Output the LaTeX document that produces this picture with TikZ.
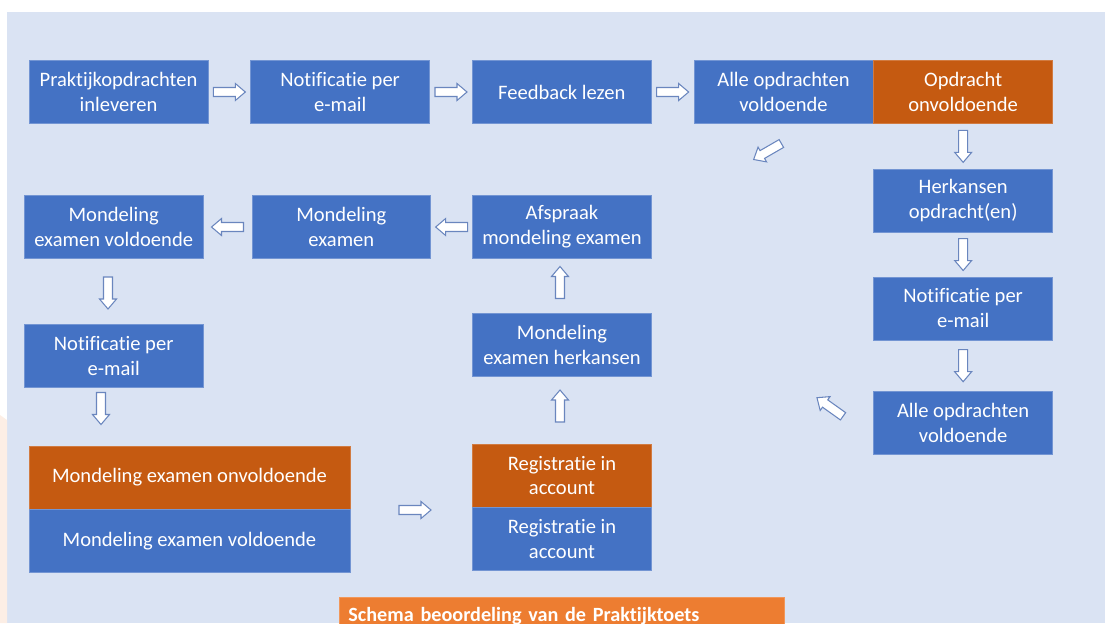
\documentclass[tikz,border=0pt]{standalone}
\usepackage{fontspec}
\setmainfont[Ligatures=NoCommon]{Carlito}
\usetikzlibrary{positioning, calc}
\definecolor{bdBlue}{HTML}{4472C4}
\definecolor{bdRust}{HTML}{C55A11}
\definecolor{bdOrange}{HTML}{ED7D31}
\definecolor{bdBack}{HTML}{DAE3F3}
\definecolor{bdPeach}{HTML}{FCEEE5}
\definecolor{bdEdge}{HTML}{6A86BE}
\tikzset{
  task/.style={
    draw=bdBlue!75!white, line width=0.4pt, fill=bdBlue, text=white,
    align=center, inner sep=2pt, font=\fontsize{11.7}{14.2}\selectfont,
    minimum width=3.58cm, minimum height=1.26cm
  },
  failtask/.style={task, draw=bdRust!80!white, fill=bdRust},
  widetask/.style={task, minimum width=6.42cm},
  widefail/.style={failtask, minimum width=6.42cm},
  titlebar/.style={
    fill=bdOrange, draw=bdOrange!80!white, line width=0.4pt, text=white,
    font=\fontsize{11.5}{14}\selectfont\bfseries, align=left,
    inner xsep=0.18cm, inner ysep=0pt, text width=8.54cm,
    text height=0.48cm, text depth=0.5cm
  },
  barrow/.pic={
    \draw[bdEdge, line width=0.6pt, fill=white, line join=miter]
      (-16,-4.5) -- (6,-4.5) -- (6,-8.5) -- (16,0) -- (6,8.5) -- (6,4.5) -- (-16,4.5) -- cycle;
  },
}
\begin{document}
\begin{tikzpicture}[x=0.02cm, y=-0.02cm]
  \useasboundingbox (0,0) rectangle (1105,623);
  \clip (0,0) rectangle (1105,623);
  \fill[bdBack] (7,12) rectangle (1105,623);
  \fill[bdPeach] (0,415) -- (7,420) -- (7,623) -- (0,623) -- cycle;

  \node[task] (inlev) at (118.5,92) {Praktijkopdrachten\\inleveren};
  \node[task, right=0.84cm of inlev] (mail1) {Notificatie per\\e-mail};
  \node[task, right=0.84cm of mail1] (feedb) {Feedback lezen};
  \node[task, right=0.84cm of feedb] (allok1) {Alle opdrachten\\voldoende};
  \node[failtask, right=0pt of allok1] (onvold) {Opdracht\\onvoldoende};
  \node[task, below=0.9cm of onvold] (herk) {Herkansen\\opdracht(en)};
  \node[task, below=0.88cm of herk] (mail2) {Notificatie per\\e-mail};
  \node[task, below=1.02cm of mail2] (allok2) {Alle opdrachten\\voldoende};

  \node[task] (afspr) at (562,227) {Afspraak\\mondeling examen};
  \node[task, left=0.82cm of afspr] (mond) {Mondeling\\examen};
  \node[task, left=0.96cm of mond] (mondok) {Mondeling\\examen voldoende};
  \node[task, below=1.3cm of mondok] (mail3) {Notificatie per\\e-mail};
  \node[task, below=1.08cm of afspr] (mondherk) {Mondeling\\examen herkansen};

  \node[widefail] (mondfail) at (189.5,477.5) {Mondeling examen onvoldoende};
  \node[widetask, below=0pt of mondfail] (mondpass) {Mondeling examen voldoende};
  \node[failtask] (regfail) at (562,475.5) {Registratie in\\account};
  \node[task, below=0pt of regfail] (regpass) {Registratie in\\account};

  \node[titlebar, anchor=north west] (titel) at (339,597) {Schema beoordeling van de Praktijktoets};

  \pic at ($(inlev.east)!0.5!(mail1.west)$) {barrow};
  \pic at ($(mail1.east)!0.5!(feedb.west)$) {barrow};
  \pic at ($(feedb.east)!0.5!(allok1.west)$) {barrow};
  \pic[rotate=-90] at ($(onvold.south)!0.5!(herk.north)$) {barrow};
  \pic[rotate=-90] at ($(herk.south)!0.5!(mail2.north)$) {barrow};
  \pic[rotate=-90] at ($(mail2.south)!0.5!(allok2.north)$) {barrow};
  \pic[rotate=210] at (767.5,151.5) {barrow};
  \pic[rotate=144.5] at (830,407) {barrow};
  \pic[rotate=180] at ($(mond.east)!0.5!(afspr.west)$) {barrow};
  \pic[rotate=180] at ($(mondok.east)!0.5!(mond.west)$) {barrow};
  \pic[rotate=-90] at (108,293) {barrow};
  \pic[rotate=-90] at (101,408.5) {barrow};
  \pic at (415,510) {barrow};
  \pic[rotate=90] at (560,406) {barrow};
  \pic[rotate=90] at (560,282.5) {barrow};
\end{tikzpicture}
\end{document}
